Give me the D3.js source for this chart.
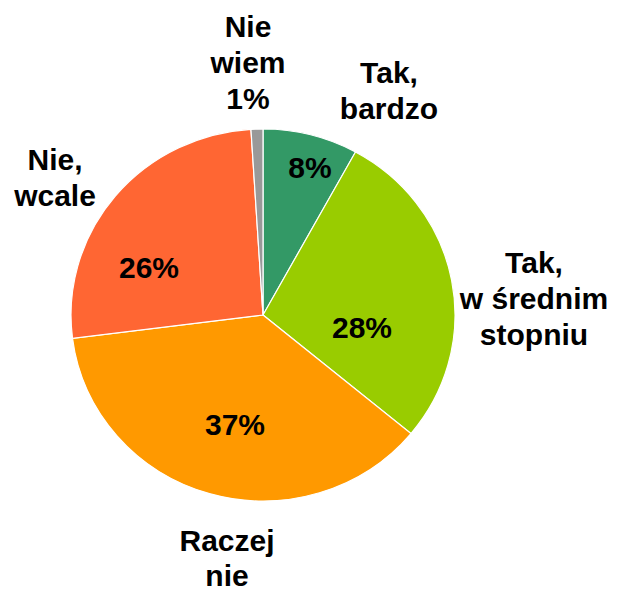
<!DOCTYPE html>
<html>
<head>
<meta charset="utf-8">
<script src="https://cdn.jsdelivr.net/npm/d3@7"></script>
<style>
  body { margin: 0; background: #fff; }
  text { font-family: Arial, "Liberation Sans", sans-serif; font-weight: bold; fill: #000; }
</style>
</head>
<body>
<svg width="622" height="593"></svg>
<script>
// data, clockwise from 12 o'clock
var categories = ["Tak, bardzo", "Tak, w średnim stopniu", "Raczej nie", "Nie, wcale", "Nie wiem"];
var values = [8, 28, 37, 26, 1];
var colors = ["#339966", "#99CC00", "#FF9900", "#FF6633", "#999999"];

// label layout (line breaks + anchor positions)
var outerLines = [["Tak,", "bardzo"], ["Tak,", "w średnim", "stopniu"], ["Raczej", "nie"], ["Nie,", "wcale"], ["Nie", "wiem", "1%"]];
var outerPos = [[389, 83], [534, 273], [227, 551], [55, 170], [248, 37]];
var innerPos = [[310, 178], [362, 338], [235, 435], [149, 278], null];

var cx = 263, cy = 315, rx = 192, ry = 186,
    fontSize = 30, lineH = 36;

var svg = d3.select("svg");

var data = values.map(function(v, i) { return {name: categories[i], value: v, i: i}; });

var pie = d3.pie()
    .sort(null)
    .value(function(d) { return d.value; });

var arc = d3.arc()
    .innerRadius(0)
    .outerRadius(rx);

var g = svg.append("g")
    .attr("transform", "translate(" + cx + "," + cy + ") scale(1," + (ry / rx) + ")");

g.selectAll("path")
    .data(pie(data))
    .enter().append("path")
    .attr("d", arc)
    .attr("fill", function(d) { return colors[d.data.i]; })
    .attr("stroke", "#fff")
    .attr("stroke-width", 1.2)
    .attr("vector-effect", "non-scaling-stroke");

// percentage labels inside slices
svg.selectAll("text.pct")
    .data(data.filter(function(d) { return innerPos[d.i]; }))
    .enter().append("text")
    .attr("class", "pct")
    .attr("x", function(d) { return innerPos[d.i][0]; })
    .attr("y", function(d) { return innerPos[d.i][1]; })
    .attr("text-anchor", "middle")
    .style("font-size", fontSize + "px")
    .text(function(d) { return d.value + "%"; });

// category labels outside
var lab = svg.selectAll("text.cat")
    .data(data)
    .enter().append("text")
    .attr("class", "cat")
    .attr("text-anchor", "middle")
    .style("font-size", fontSize + "px");

lab.each(function(d) {
    var t = d3.select(this);
    outerLines[d.i].forEach(function(line, k) {
        t.append("tspan")
            .attr("x", outerPos[d.i][0])
            .attr("y", outerPos[d.i][1] + k * (d.i === 2 ? 35 : lineH))
            .text(line);
    });
});
</script>
</body>
</html>
